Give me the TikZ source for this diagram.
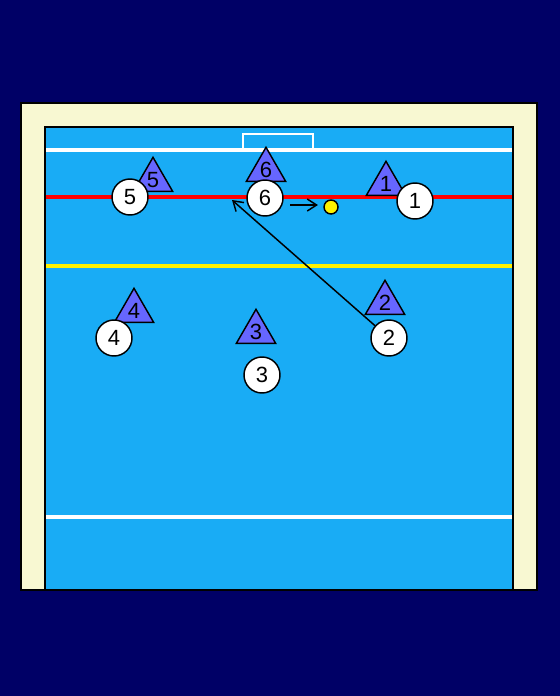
\documentclass[tikz,border=0pt]{standalone}
\usepackage{fontspec}
\setmainfont{Liberation Sans}
\usetikzlibrary{shapes.geometric,arrows.meta}

\definecolor{navybg}{RGB}{0,0,102}
\definecolor{deckcream}{RGB}{248,248,210}
\definecolor{poolblue}{RGB}{25,172,245}
\definecolor{attackblue}{RGB}{102,102,255}

\tikzset{every picture/.style={line width=0.75pt}}
\tikzset{
  defender/.style={circle,draw,line width=1.1pt,fill=white,minimum size=27pt,inner sep=0pt,font=\fontsize{16.5}{16.5}\selectfont},
  attacker/.style={regular polygon,regular polygon sides=3,draw,line width=1.1pt,fill=attackblue,minimum size=34pt,inner sep=0pt,font=\fontsize{16.5}{16.5}\selectfont},
  swim/.style={-{Straight Barb[length=7pt,width=9pt]},line width=1.1pt},
  poolline/.style={line width=2.6pt},
}

\begin{document}
\begin{tikzpicture}[x=0.75pt,y=0.75pt,yscale=-1,xscale=1]
  %set diagram size 560 x 696
  \useasboundingbox (0,0) rectangle (560,696);
  \fill[navybg] (0,0) rectangle (560,696);

  %Shape: Rectangle [deck]
  \draw[fill=deckcream,line width=1.6pt] (21,103) rectangle (537,590);
  %Shape: Rectangle [pool]
  \draw[fill=poolblue,line width=1.6pt] (45,127) rectangle (513,590);

  %Straight Lines [goal]
  \draw[white,line width=2pt] (243,150) -- (243,134) -- (313,134) -- (313,150);
  %Straight Lines [goal line]
  \draw[white,poolline] (46,150) -- (512,150);
  %Straight Lines [2 m]
  \draw[red,poolline] (46,197) -- (512,197);
  %Straight Lines [5 m]
  \draw[yellow,poolline] (46,266) -- (512,266);
  %Straight Lines [half]
  \draw[white,poolline] (46,517) -- (512,517);

  %Shape: Triangles [attack]
  \node[attacker] (a5) at (153,180) {5};
  \node[attacker] (a6) at (266,170) {6};
  \node[attacker] (a1) at (386,184) {1};
  \node[attacker] (a4) at (134,311) {4};
  \node[attacker] (a3) at (256,332) {3};
  \node[attacker] (a2) at (385,303) {2};

  %Shape: Circles [defence]
  \node[defender] (d5) at (130,197) {5};
  \node[defender] (d6) at (265,198) {6};
  \node[defender] (d1) at (415,201) {1};
  \node[defender] (d4) at (114,338) {4};
  \node[defender] (d3) at (262,375) {3};
  \node[defender] (d2) at (389,338) {2};

  %Shape: Circle [ball]
  \node[circle,draw,line width=1.1pt,fill=yellow,minimum size=10.5pt,inner sep=0pt] (ball) at (331,207) {};

  %Straight Lines [moves]
  \coordinate (cut) at (232,200);
  \draw[swim] (d2) -- (cut);
  \draw[swim] ([xshift=5pt]d6.east |- 0,205) -- ([xshift=-4pt]ball.west |- 0,205);

\end{tikzpicture}
\end{document}
